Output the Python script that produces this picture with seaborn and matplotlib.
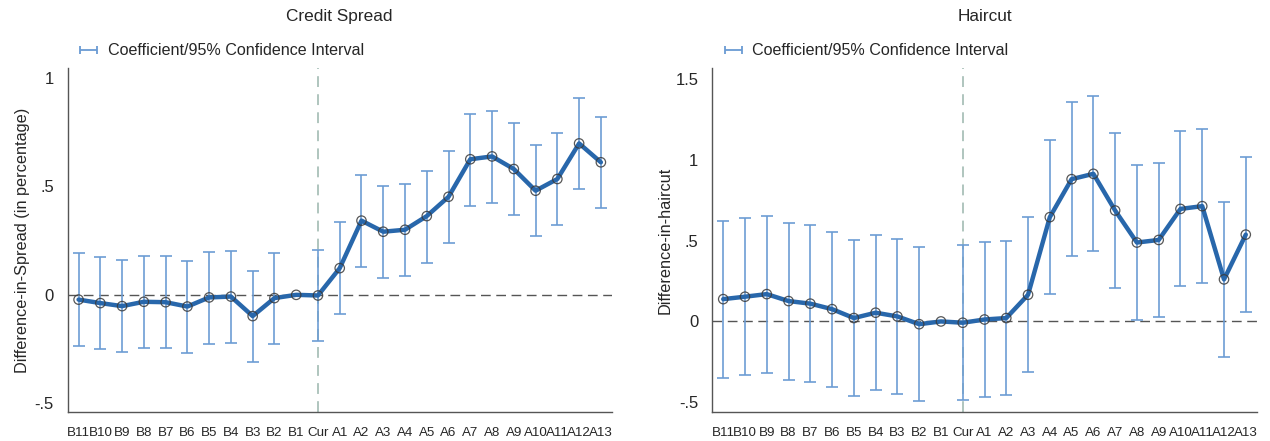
import numpy as np
import pandas as pd
import seaborn as sns
import matplotlib.pyplot as plt
from matplotlib.legend_handler import HandlerErrorbar

periods = ['B11', 'B10', 'B9', 'B8', 'B7', 'B6', 'B5', 'B4', 'B3', 'B2', 'B1', 'Cur',
           'A1', 'A2', 'A3', 'A4', 'A5', 'A6', 'A7', 'A8', 'A9', 'A10', 'A11', 'A12', 'A13']

spread_coef = [-0.022, -0.038, -0.052, -0.032, -0.034, -0.054, -0.012, -0.008, -0.098, -0.015, 0.0, -0.003,
               0.123, 0.342, 0.291, 0.300, 0.363, 0.452, 0.625, 0.638, 0.580, 0.480, 0.534, 0.698, 0.611]
spread_hi = [0.192, 0.174, 0.162, 0.180, 0.178, 0.157, 0.198, 0.203, 0.112, 0.195, np.nan, 0.208,
             0.334, 0.552, 0.502, 0.511, 0.572, 0.665, 0.835, 0.849, 0.791, 0.691, 0.746, 0.908, 0.820]
spread_lo = [-0.234, -0.249, -0.265, -0.243, -0.245, -0.268, -0.225, -0.220, -0.311, -0.228, np.nan, -0.215,
             -0.088, 0.129, 0.078, 0.088, 0.149, 0.240, 0.411, 0.425, 0.368, 0.269, 0.323, 0.486, 0.398]

haircut_coef = [0.138, 0.153, 0.169, 0.126, 0.110, 0.076, 0.021, 0.054, 0.031, -0.017, 0.0, -0.008,
                0.012, 0.021, 0.165, 0.645, 0.880, 0.913, 0.686, 0.488, 0.504, 0.696, 0.713, 0.260, 0.537]
haircut_hi = [0.622, 0.638, 0.655, 0.610, 0.595, 0.552, 0.502, 0.535, 0.510, 0.463, np.nan, 0.471,
              0.490, 0.496, 0.645, 1.124, 1.357, 1.395, 1.165, 0.967, 0.981, 1.176, 1.190, 0.738, 1.020]
haircut_lo = [-0.347, -0.331, -0.316, -0.360, -0.374, -0.403, -0.463, -0.426, -0.446, -0.494, np.nan, -0.488,
              -0.465, -0.457, -0.314, 0.167, 0.403, 0.436, 0.209, 0.010, 0.027, 0.217, 0.236, -0.217, 0.060]

sns.set_style('white')
plt.rcParams['font.family'] = ['Liberation Sans', 'DejaVu Sans']

line_col = '#2867ab'
ci_col = '#6a9bd3'

fig = plt.figure(figsize=(12.7, 4.41), dpi=100)
ax1 = fig.add_axes([0.0533, 0.0658, 0.4284, 0.7802])
ax2 = fig.add_axes([0.5609, 0.0658, 0.4286, 0.7802])


def draw(ax, coef, lo, hi, title, ylabel, ylim, yticks, yticklabels, lpad):
    df = pd.DataFrame({'x': np.arange(len(periods)), 'coef': coef, 'lo': lo, 'hi': hi})
    ci = df.dropna()
    ax.errorbar(ci['x'], (ci['lo'] + ci['hi']) / 2, yerr=(ci['hi'] - ci['lo']) / 2,
                fmt='none', ecolor=ci_col, elinewidth=1.3, capsize=4, capthick=1.3, alpha=0.9, zorder=2)
    ax.axhline(0, color='#555555', lw=1.0, dashes=(7, 4), zorder=1)
    ax.axvline(11, color='#a9c0b9', lw=1.3, dashes=(6, 4), zorder=1)
    sns.lineplot(data=df, x='x', y='coef', ax=ax, color=line_col, lw=3.2, zorder=3)
    ax.scatter(df['x'], df['coef'], s=46, facecolors='none', edgecolors='#3a3a3a',
               linewidths=0.9, zorder=4, alpha=0.85)
    # legend handle: horizontal bar with caps
    h = ax.errorbar([np.nan], [np.nan], xerr=[1], fmt='none', ecolor=ci_col,
                    elinewidth=1.3, capsize=3, capthick=1.3)
    ax.set_xlim(-0.5, 24.5)
    ax.set_ylim(*ylim)
    ax.set_xticks(df['x'])
    ax.set_xticklabels(periods, fontsize=9.6)
    ax.set_yticks(yticks)
    ax.set_yticklabels(yticklabels, fontsize=12)
    ax.tick_params(axis='y', length=0, pad=10)
    ax.tick_params(axis='x', length=0, pad=11)
    ax.set_xlabel('')
    ax.set_ylabel(ylabel, fontsize=11.7, labelpad=lpad)
    for s in ['top', 'right']:
        ax.spines[s].set_visible(False)
    for s in ['left', 'bottom']:
        ax.spines[s].set_color('#555555')
        ax.spines[s].set_linewidth(1.0)
    ax.set_title(title, fontsize=12.4, pad=34)
    ax.legend([h], ['Coefficient/95% Confidence Interval'],
              handler_map={type(h): HandlerErrorbar(xerr_size=0.52)},
              loc='lower left', bbox_to_anchor=(0.004, 1.0), frameon=False,
              fontsize=11.6, handlelength=1.15, handletextpad=0.6, borderaxespad=0.2)


draw(ax1, spread_coef, spread_lo, spread_hi, 'Credit Spread',
     'Difference-in-Spread (in percentage)', (-0.54, 1.046),
     [-0.5, 0, 0.5, 1], ['-.5', '0', '.5', '1'], 3)
draw(ax2, haircut_coef, haircut_lo, haircut_hi, 'Haircut',
     'Difference-in-haircut', (-0.56, 1.568),
     [-0.5, 0, 0.5, 1, 1.5], ['-.5', '0', '.5', '1', '1.5'], 2)

fig.savefig('out.png', dpi=100)
